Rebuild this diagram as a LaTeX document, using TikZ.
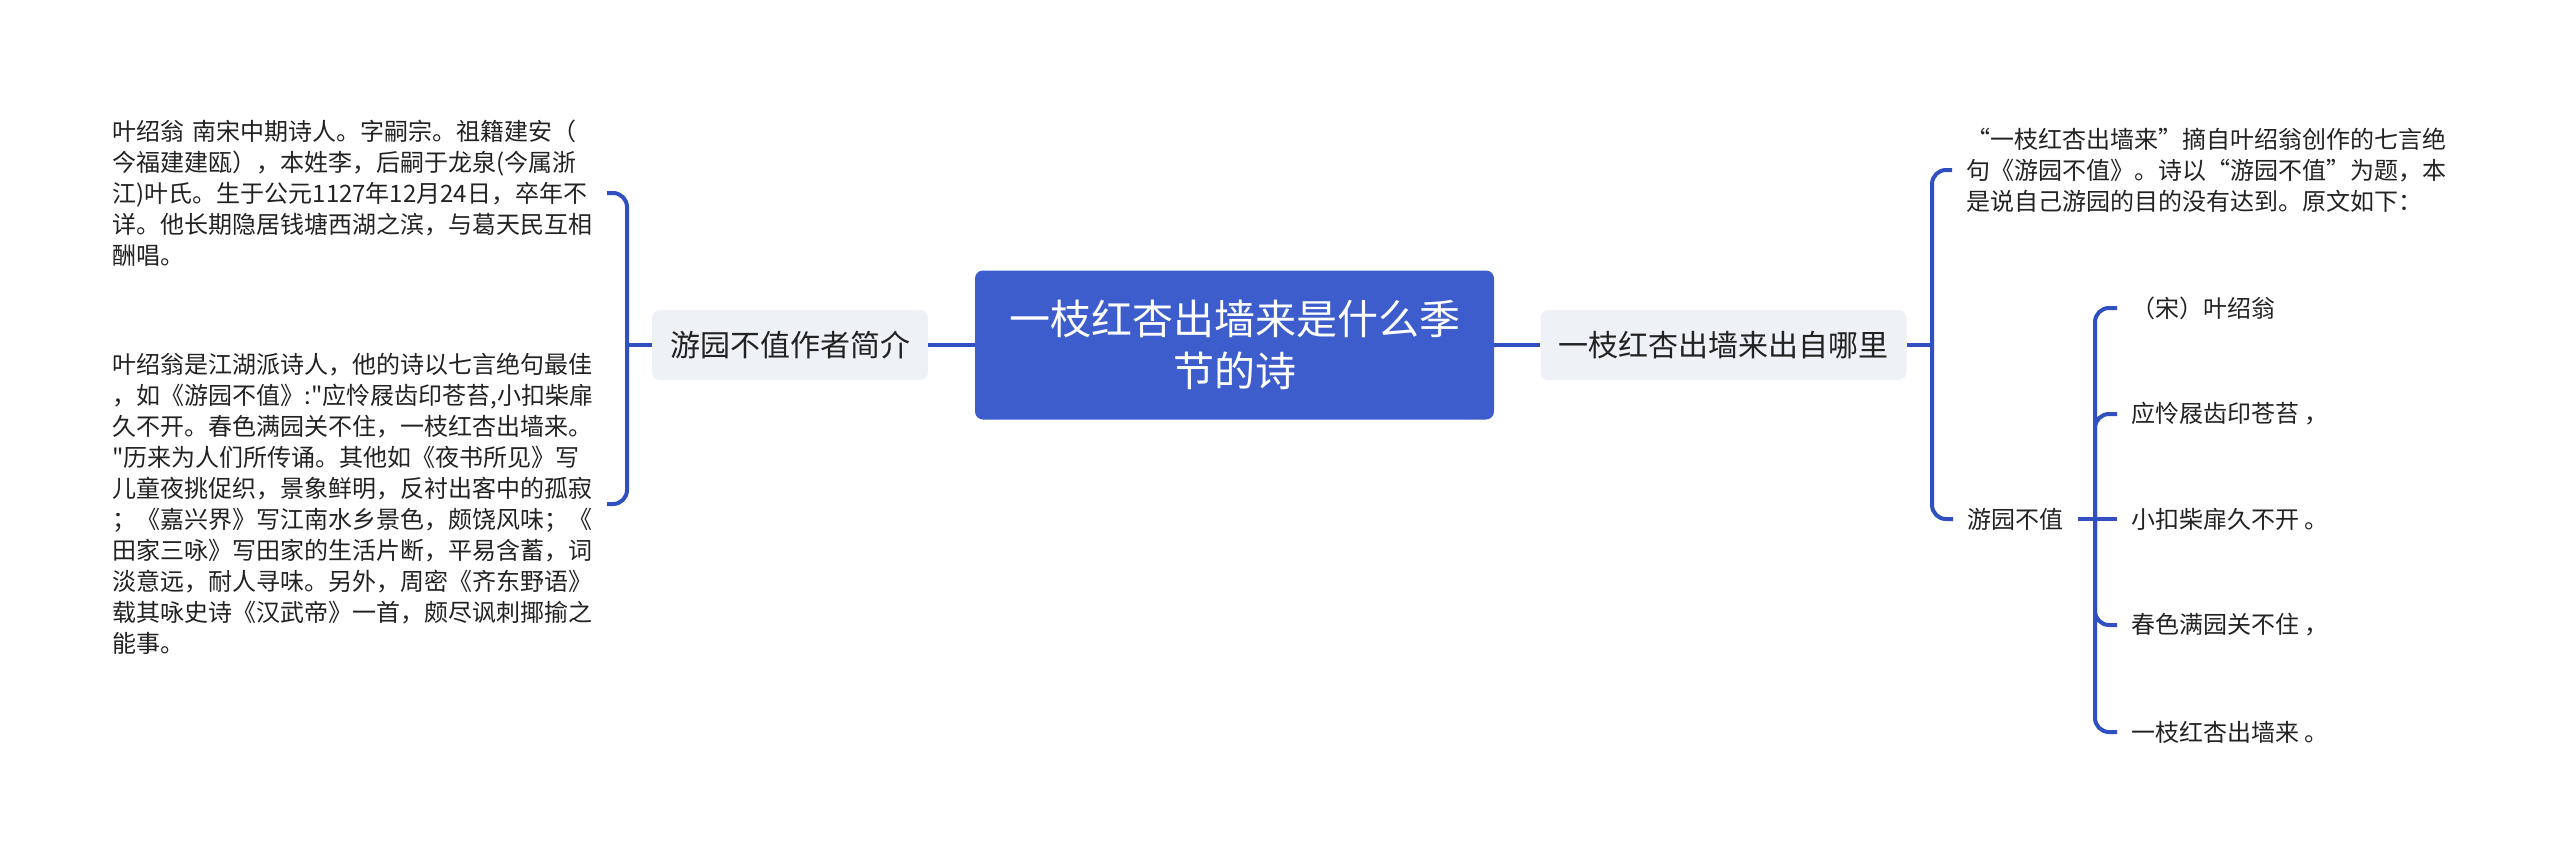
\documentclass[tikz,border=0pt]{standalone}
\usepackage{fontspec}
\newfontfamily\cjk{Noto Sans CJK SC}
\usetikzlibrary{positioning}
\definecolor{mapblue}{HTML}{3C5DCB}
\definecolor{linkblue}{HTML}{3050C2}
\definecolor{topicgray}{HTML}{EEF1F5}
\definecolor{inkgray}{HTML}{222222}

\begin{document}
\begin{tikzpicture}
[x=0.5pt,y=-0.5pt,
  root/.style={fill=mapblue,text=white,rounded corners=4pt,text width=228pt,align=center,
    minimum width=259.5pt,minimum height=74.5pt,font=\cjk\fontsize{20.5}{26}\selectfont},
  topic/.style={fill=topicgray,text=inkgray,rounded corners=4pt,inner xsep=9pt,
    minimum height=35pt,font=\cjk\fontsize{15}{18}\selectfont},
  note/.style={text=inkgray,inner xsep=7pt,inner ysep=2pt,align=left,
    font=\cjk\fontsize{12}{15.5}\selectfont},
  link/.style={draw=linkblue,line width=2pt,rounded corners=7pt}]
\useasboundingbox (0,0) rectangle (2560,863);
%% main topics
\node[root] (root) at (1234.5,345) {一枝红杏出墙来是什么季\\节的诗};
\node[topic] (author) at (790,345) {游园不值作者简介};
\node[topic] (source) at (1723.5,345) {一枝红杏出墙来出自哪里};
%% left notes
\node[note,text width=240pt,anchor=east] (bio) at (607,193)
  {叶绍翁 南宋中期诗人。字嗣宗。祖籍建安（\\
   今福建建瓯），本姓李，后嗣于龙泉(今属浙\\
   江)叶氏。生于公元1127年12月24日，卒年不\\
   详。他长期隐居钱塘西湖之滨，与葛天民互相\\
   酬唱。};
\node[note,text width=240pt,anchor=east] (style) at (607,504)
  {叶绍翁是江湖派诗人，他的诗以七言绝句最佳\\
   ，如《游园不值》:"应怜屐齿印苍苔,小扣柴扉\\
   久不开。春色满园关不住，一枝红杏出墙来。\\
   "历来为人们所传诵。其他如《夜书所见》写\\
   儿童夜挑促织，景象鲜明，反衬出客中的孤寂\\
   ；《嘉兴界》写江南水乡景色，颇饶风味；《\\
   田家三咏》写田家的生活片断，平易含蓄，词\\
   淡意远，耐人寻味。另外，周密《齐东野语》\\
   载其咏史诗《汉武帝》一首，颇尽讽刺揶揄之\\
   能事。};
%% right notes
\node[note,text width=240pt,anchor=west] (intro) at (1952,170)
  {“一枝红杏出墙来”摘自叶绍翁创作的七言绝\\
   句《游园不值》。诗以“游园不值”为题，本\\
   是说自己游园的目的没有达到。原文如下：};
\node[note,anchor=west] (poem) at (1953,519) {游园不值};
\node[note,anchor=west] (line0) at (2117,308) {（宋）叶绍翁};
\node[note,anchor=west] (line1) at (2117,414) {应怜屐齿印苍苔 ，};
\node[note,anchor=west] (line2) at (2117,519) {小扣柴扉久不开 。};
\node[note,anchor=west] (line3) at (2117,625) {春色满园关不住 ，};
\node[note,anchor=west] (line4) at (2117,732) {一枝红杏出墙来 。};
%% junctions
\coordinate (lj) at (627,345);
\coordinate (rj) at (1932,345);
\coordinate (pj) at (2095,519);
%% connectors
\draw[link] (root.west) -- (author.east);
\draw[link] (author.west) -- (lj);
\draw[link] (bio.east) -| (lj) |- (style.east);
\draw[link] (root.east) -- (source.west);
\draw[link] (source.east) -- (rj);
\draw[link] (intro.west) -| (rj) |- (poem.west);
\draw[link] (poem.east) -- (line2.west);
\draw[link] (line0.west) -| (pj) |- (line4.west);
\draw[link] (pj) |- (line1.west);
\draw[link] (pj) |- (line3.west);
\end{tikzpicture}
\end{document}
